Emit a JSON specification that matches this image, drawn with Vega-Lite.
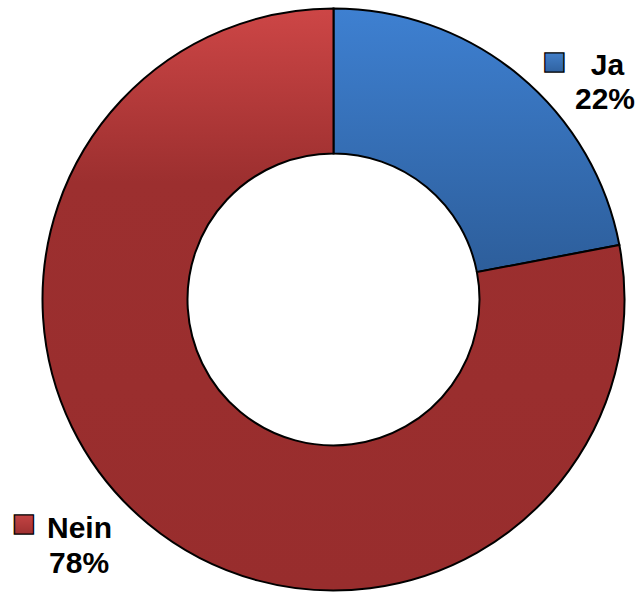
{
  "$schema": "https://vega.github.io/schema/vega-lite/v6.json",
  "autosize": "none",
  "width": 617,
  "height": 585,
  "padding": {"left": 25, "top": 7, "right": 0, "bottom": 0},
  "background": "white",
  "config": {"view": {"stroke": null}},
  "data": {"values": [
    {"cat": "Ja", "share": 0.22, "order": 1},
    {"cat": "Nein", "share": 0.78, "order": 2}
  ]},
  "encoding": {
    "theta": {"field": "share", "type": "quantitative", "stack": true},
    "order": {"field": "order", "type": "quantitative"},
    "detail": {"field": "cat", "type": "nominal"}
  },
  "layer": [
    {
      "mark": {"type": "arc", "outerRadius": 291, "innerRadius": 146, "stroke": "black", "strokeWidth": 2},
      "encoding": {
        "fill": {
          "condition": {"test": "datum.cat === 'Ja'", "value": {"gradient": "linear", "x1": 0, "y1": 0, "x2": 0, "y2": 1, "stops": [{"offset": 0, "color": "#3e80d1"}, {"offset": 1, "color": "#2d5e9b"}]}},
          "value": {"gradient": "linear", "x1": 0, "y1": 0, "x2": 0, "y2": 1, "stops": [{"offset": 0, "color": "#cd4646"}, {"offset": 0.3, "color": "#9c2f2f"}, {"offset": 1, "color": "#982d2d"}]}
        }
      }
    },
    {
      "mark": {"type": "text", "radius": 320, "dx": 70, "dy": 22, "font": "Liberation Sans", "fontWeight": "bold", "fontSize": 30, "align": "center", "baseline": "alphabetic", "color": "black"},
      "encoding": {"text": {"condition": {"test": "datum.cat === 'Ja'", "field": "cat", "type": "nominal"}, "value": ""}}
    },
    {
      "mark": {"type": "text", "radius": 320, "dx": 67.5, "dy": 56, "font": "Liberation Sans", "fontWeight": "bold", "fontSize": 30, "align": "center", "baseline": "alphabetic", "color": "black"},
      "encoding": {"text": {"condition": {"test": "datum.cat === 'Ja'", "field": "share", "type": "quantitative", "format": ".0%"}, "value": ""}}
    },
    {
      "mark": {"type": "text", "radius": 320, "dx": -50, "dy": -8, "font": "Liberation Sans", "fontWeight": "bold", "fontSize": 30, "align": "center", "baseline": "alphabetic", "color": "black"},
      "encoding": {"text": {"condition": {"test": "datum.cat === 'Nein'", "field": "cat", "type": "nominal"}, "value": ""}}
    },
    {
      "mark": {"type": "text", "radius": 320, "dx": -50.5, "dy": 27, "font": "Liberation Sans", "fontWeight": "bold", "fontSize": 30, "align": "center", "baseline": "alphabetic", "color": "black"},
      "encoding": {"text": {"condition": {"test": "datum.cat === 'Nein'", "field": "share", "type": "quantitative", "format": ".0%"}, "value": ""}}
    },
    {
      "mark": {"type": "text", "radius": 320, "dx": 17, "dy": 7.6, "font": "DejaVu Sans", "fontSize": 25, "align": "center", "baseline": "middle", "stroke": "black", "strokeWidth": 1.3},
      "encoding": {
        "text": {"condition": {"test": "datum.cat === 'Ja'", "value": "■"}, "value": ""},
        "fill": {"value": {"gradient": "linear", "x1": 0, "y1": 0, "x2": 0, "y2": 1, "stops": [{"offset": 0, "color": "#4a8ad8"}, {"offset": 1, "color": "#2d5e9b"}]}}
      }
    },
    {
      "mark": {"type": "text", "radius": 320, "dx": -105.5, "dy": -22.6, "font": "DejaVu Sans", "fontSize": 25, "align": "center", "baseline": "middle", "stroke": "black", "strokeWidth": 1.3},
      "encoding": {
        "text": {"condition": {"test": "datum.cat === 'Nein'", "value": "■"}, "value": ""},
        "fill": {"value": {"gradient": "linear", "x1": 0, "y1": 0, "x2": 0, "y2": 1, "stops": [{"offset": 0, "color": "#d04a4a"}, {"offset": 1, "color": "#982d2d"}]}}
      }
    }
  ]
}
